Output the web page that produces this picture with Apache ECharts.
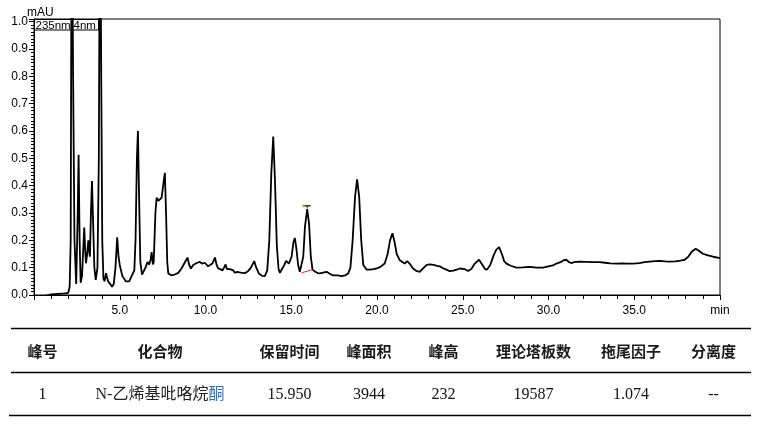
<!DOCTYPE html>
<html>
<head>
<meta charset="utf-8">
<script src="https://cdn.jsdelivr.net/npm/echarts@6/dist/echarts.min.js"></script>
<style>
html,body{margin:0;padding:0;background:#fff;}
#chart{width:761px;height:425px;}
</style>
</head>
<body>
<div id="chart"></div>
<script>
// Retention time (min) and absorbance (mAU)
const times = [0.0,0.3,0.6,1.0,1.4,1.8,2.0,2.08,2.14,2.2,2.28,2.36,2.46,2.5,2.55,2.6,2.66,2.72,2.8,2.88,2.93,2.98,3.03,3.1,3.17,3.22,3.26,3.32,3.38,3.44,3.52,3.6,3.7,3.78,3.85,3.92,3.98,4.05,4.12,4.2,4.25,4.32,4.45,4.55,4.65,4.75,4.85,4.93,5.0,5.05,5.15,5.25,5.35,5.45,5.55,5.7,5.85,5.92,6.0,6.06,6.13,6.2,6.3,6.4,6.5,6.62,6.72,6.8,6.86,6.93,6.98,7.08,7.15,7.25,7.34,7.44,7.55,7.63,7.7,7.77,7.83,8.0,8.2,8.41,8.6,8.8,8.95,9.05,9.15,9.28,9.38,9.52,9.67,9.8,9.87,9.96,10.06,10.15,10.26,10.4,10.55,10.65,10.74,10.86,10.98,11.08,11.17,11.25,11.32,11.42,11.52,11.62,11.71,11.84,11.95,12.05,12.14,12.3,12.49,12.65,12.84,12.96,13.11,13.3,13.46,13.6,13.72,13.84,13.95,14.05,14.16,14.26,14.34,14.46,14.59,14.7,14.78,14.86,14.92,15.02,15.12,15.21,15.3,15.4,15.5,15.6,15.7,15.8,15.93,16.04,16.14,16.24,16.4,16.55,16.67,16.85,17.06,17.25,17.44,17.7,17.93,18.15,18.32,18.45,18.58,18.72,18.84,18.96,19.08,19.2,19.39,19.6,19.8,19.97,20.2,20.45,20.62,20.76,20.9,21.02,21.15,21.33,21.5,21.62,21.76,21.9,22.1,22.3,22.49,22.7,22.9,23.08,23.3,23.5,23.66,23.85,24.05,24.24,24.44,24.65,24.83,24.92,25.1,25.31,25.5,25.7,25.95,26.15,26.3,26.42,26.6,26.8,26.95,27.12,27.28,27.42,27.55,27.8,28.13,28.5,28.9,29.3,29.68,30.0,30.25,30.46,30.7,30.9,31.04,31.2,31.33,31.5,31.82,32.2,32.6,32.98,33.3,33.6,33.96,34.3,34.6,34.93,35.3,35.6,35.9,36.2,36.48,36.8,37.06,37.4,37.7,37.94,38.15,38.35,38.58,38.75,39.0,39.3,39.6,40.0];
const absorbance = [-0.003,-0.006,-0.004,0.002,0.004,0.006,0.008,0.03,0.2,1.6,0.8,0.2,0.04,0.035,0.3,0.513,0.2,0.045,0.07,0.18,0.247,0.17,0.116,0.15,0.2,0.16,0.14,0.3,0.417,0.28,0.1,0.055,0.1,0.5,1.6,0.8,0.2,0.06,0.05,0.08,0.08,0.05,0.04,0.03,0.04,0.1,0.211,0.14,0.11,0.11,0.07,0.06,0.05,0.055,0.05,0.07,0.09,0.2,0.5,0.6,0.35,0.12,0.075,0.072,0.1,0.121,0.112,0.13,0.157,0.112,0.12,0.3,0.356,0.345,0.338,0.356,0.41,0.447,0.3,0.12,0.079,0.072,0.075,0.081,0.097,0.12,0.137,0.11,0.097,0.11,0.117,0.118,0.121,0.115,0.112,0.118,0.117,0.105,0.1,0.115,0.137,0.11,0.097,0.095,0.09,0.1,0.112,0.095,0.088,0.095,0.1,0.09,0.081,0.085,0.088,0.082,0.076,0.08,0.088,0.1,0.124,0.1,0.079,0.07,0.069,0.09,0.2,0.45,0.58,0.42,0.18,0.095,0.081,0.095,0.109,0.125,0.13,0.115,0.109,0.14,0.19,0.209,0.17,0.11,0.085,0.081,0.14,0.25,0.314,0.26,0.14,0.093,0.085,0.08,0.079,0.082,0.085,0.078,0.072,0.072,0.069,0.072,0.079,0.1,0.2,0.36,0.423,0.36,0.2,0.11,0.093,0.093,0.095,0.097,0.103,0.115,0.15,0.2,0.226,0.195,0.15,0.127,0.12,0.115,0.124,0.115,0.097,0.088,0.085,0.098,0.11,0.112,0.11,0.107,0.105,0.098,0.093,0.087,0.089,0.093,0.097,0.093,0.095,0.088,0.095,0.115,0.129,0.11,0.095,0.093,0.11,0.145,0.165,0.175,0.15,0.123,0.115,0.107,0.1,0.101,0.103,0.1,0.1,0.105,0.108,0.115,0.12,0.128,0.129,0.12,0.117,0.12,0.122,0.121,0.12,0.12,0.118,0.116,0.115,0.116,0.115,0.115,0.117,0.12,0.122,0.124,0.125,0.123,0.122,0.123,0.126,0.129,0.14,0.158,0.169,0.163,0.151,0.145,0.14,0.135];

// integration baseline of the labelled peak (red) and apex marker
const baselineTimes = [15.6, 16.24];
const baselineValues = [0.081, 0.093];
const apexTimes = [15.71, 16.13];
const apexValue = 0.327;

// table
const tableHeaders = ['峰号','化合物','保留时间','峰面积','峰高','理论塔板数','拖尾因子','分离度'];
const tableRow = ['1','N-乙烯基吡咯烷酮','15.950','3944','232','19587','1.074','--'];

const yTickLabels = ['0.0','0.1','0.2','0.3','0.4','0.5','0.6','0.7','0.8','0.9','1.0'];
const xTickLabels = ['','5.0','10.0','15.0','20.0','25.0','30.0','35.0','min'];

const chart = echarts.init(document.getElementById('chart'), null, {renderer:'canvas'});

const trace = times.map((t,i)=>[t, absorbance[i]]);
const colX = [42.5,160,289.5,369,443.5,533.5,631,713.5];
const axisFont = '"Liberation Sans", Arial, sans-serif';

const graphics = [];
// header box "235nm | 4nm"
graphics.push({type:'rect', shape:{x:34.5,y:19.5,width:64,height:10.5}, style:{fill:'rgba(0,0,0,0)',stroke:'#000',lineWidth:1}, z:100});
graphics.push({type:'text', x:35.5, y:25.5, style:{text:'235nm', font:'11.5px "Liberation Sans"', fill:'#000', verticalAlign:'middle'}, z:100});
graphics.push({type:'text', x:73.5, y:25.5, style:{text:'4nm', font:'11.5px "Liberation Sans"', fill:'#000', verticalAlign:'middle'}, z:100});
// mAU
graphics.push({type:'text', x:27, y:13, style:{text:'mAU', font:'12px "Liberation Sans"', fill:'#000', verticalAlign:'middle'}, z:100});
// table lines
[[11,328.5,751],[11,372.5,751],[9,415.5,751]].forEach(l=>{
  graphics.push({type:'line', shape:{x1:l[0],y1:l[1],x2:l[2],y2:l[1]}, style:{stroke:'#000',lineWidth:1.5}});
});
tableHeaders.forEach((h,i)=>{
  graphics.push({type:'text', x:colX[i], y:351, style:{text:h, font:'bold 15px "Noto Sans CJK SC"', fill:'#1a1a1a', align:'center', verticalAlign:'middle'}});
});
tableRow.forEach((v,i)=>{
  if (i===1) {
    graphics.push({type:'text', x:colX[i], y:395, style:{
      text:'{a|N-乙烯基吡咯烷}{b|酮}', align:'center', verticalAlign:'middle',
      rich:{a:{font:'16px "Liberation Serif","Noto Sans CJK SC"', fill:'#222'}, b:{font:'16px "Liberation Serif","Noto Sans CJK SC"', fill:'#3a6db5'}}
    }});
  } else {
    graphics.push({type:'text', x:colX[i], y:395, style:{text:v, font:'16px "Liberation Serif"', fill:'#111', align:'center', verticalAlign:'middle'}});
  }
});

chart.setOption({
  animation:false,
  grid:{left:34, right:41, top:19, bottom:130, show:true, borderColor:'#000', borderWidth:1, backgroundColor:'transparent'},
  xAxis:{
    type:'value', min:0, max:40, interval:5,
    axisLine:{lineStyle:{color:'#000',width:1}},
    axisTick:{show:true, length:5, lineStyle:{color:'#000'}},
    minorTick:{show:true, splitNumber:5, length:4, lineStyle:{color:'#000'}},
    splitLine:{show:false},
    axisLabel:{color:'#000', fontSize:12, fontFamily:axisFont, margin:10,
      formatter:(v)=>xTickLabels[Math.round(v/5)] || ''}
  },
  yAxis:{
    type:'value', min:0, max:1.01, interval:0.1,
    axisLine:{show:true, lineStyle:{color:'#000',width:1}},
    axisTick:{show:true, length:5, lineStyle:{color:'#000'}},
    minorTick:{show:true, splitNumber:8, length:3, lineStyle:{color:'#000'}},
    splitLine:{show:false},
    axisLabel:{color:'#000', fontSize:12, fontFamily:axisFont, margin:6, showMaxLabel:false,
      formatter:(v)=>{const k=Math.round(v*10); return Math.abs(v*10-k)<1e-6 ? (yTickLabels[k]||'') : '';}}
  },
  graphic:graphics,
  series:[
    {type:'line', data:trace, symbol:'none', clip:true, lineStyle:{color:'#000', width:1.8}, z:5},
    {type:'line', data:baselineTimes.map((t,i)=>[t,baselineValues[i]]), symbol:'none', lineStyle:{color:'#ff2020', width:1}, z:6},
    {type:'line', data:apexTimes.map(t=>[t,apexValue]), symbol:'none', lineStyle:{color:'#333', width:1.5}, z:6},
    {type:'line', data:[[15.93,apexValue],[15.93,apexValue-0.01]], symbol:'none', lineStyle:{color:'#333', width:1}, z:6},
    {type:'scatter', data:[[apexTimes[0],apexValue]], symbolSize:3, itemStyle:{color:'#f0a030'}, z:7}
  ]
});
</script>
</body>
</html>
